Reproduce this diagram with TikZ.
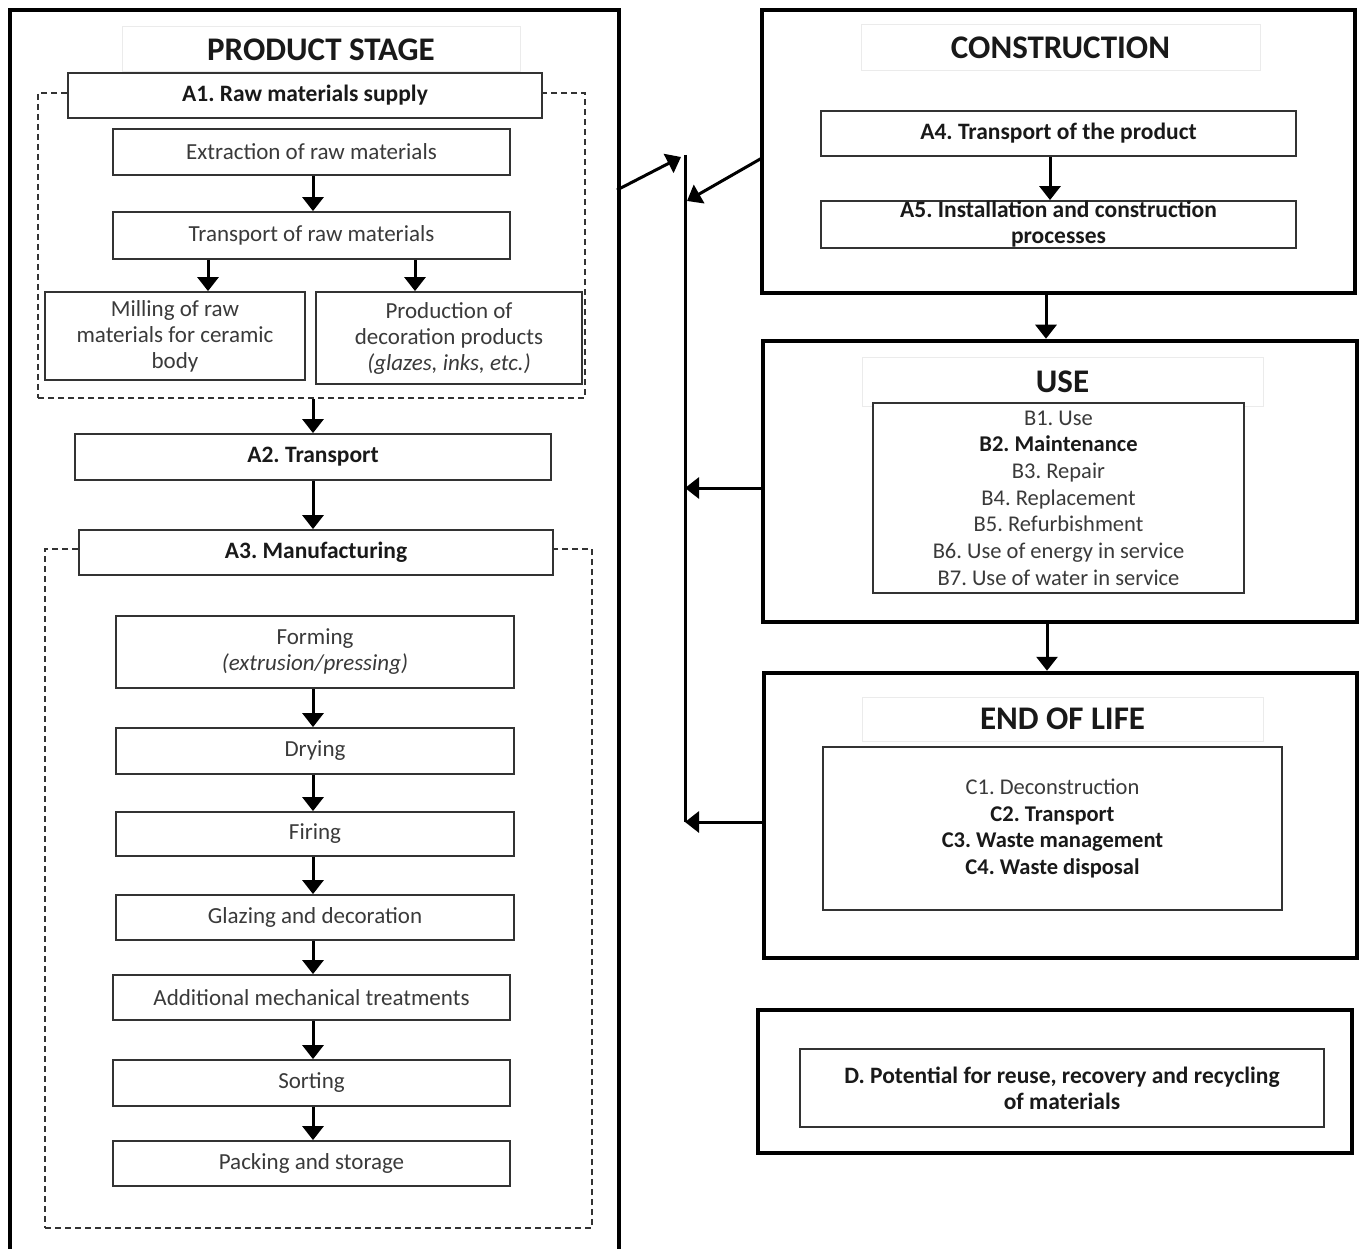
\documentclass[tikz,border=0pt]{standalone}
\usepackage{fontspec}
\setmainfont{Carlito}
\usetikzlibrary{arrows.meta}
\definecolor{txt}{HTML}{3A3A3A}
\definecolor{bx}{HTML}{333333}
\frenchspacing
\tikzset{
 outerbox/.style={draw=black, line width=4.5pt},
 box/.style={draw=bx, line width=1.8pt, fill=white, align=center, inner sep=0pt, text=txt, font=\fontsize{23}{26}\selectfont\frenchspacing},
 bbox/.style={box, text=black!90, font=\fontsize{23.5}{26}\selectfont\bfseries\frenchspacing},
 titlebox/.style={draw=black!8, line width=1pt, fill=white, inner sep=0pt, text=black!90, font=\fontsize{33}{36}\selectfont\bfseries},
 dashbox/.style={draw=black!80, line width=1.6pt, dash pattern=on 6pt off 4pt, inner sep=0pt},
 arr/.style={line width=3pt, -{Triangle[width=21pt,length=14pt]}},
 fb/.style={line width=3pt},
}
\begin{document}
\begin{tikzpicture}[x=1pt,y=-1pt]
\useasboundingbox (0,0) rectangle (1360,1249);
\fill[white] (0,0) rectangle (1360,1249);
% ---------- product stage ----------
\draw[outerbox] (10,1262) -- (10,10) -- (619,10) -- (619,1262);
\node[dashbox, minimum width=547pt, minimum height=305pt] (g1) at (311.5,245.5) {};
\node[dashbox, minimum width=547pt, minimum height=679pt] (g3) at (318.5,888.5) {};
\node[titlebox, minimum width=398pt, minimum height=45pt] (tp) at (321,49.5) {PRODUCT STAGE};
\node[bbox, minimum width=474pt, minimum height=45pt] (a1) at (305,95.5) {A1. Raw materials supply};
\node[box, minimum width=397pt, minimum height=46pt] (ext) at (311.5,152) {Extraction of raw materials};
\node[box, minimum width=397pt, minimum height=47pt] (trp) at (311.5,235.5) {Transport of raw materials};
\node[box, minimum width=260pt, minimum height=88pt] (mill) at (175,336) {Milling of raw\\materials for ceramic\\body};
\node[box, minimum width=266pt, minimum height=92pt] (deco) at (449,338) {Production of\\decoration products\\{\itshape(glazes, inks, etc.)}};
\node[bbox, minimum width=476pt, minimum height=46pt] (a2) at (313,457) {A2. Transport};
\node[bbox, minimum width=474pt, minimum height=45pt] (a3) at (316,552.5) {A3. Manufacturing};
\node[box, minimum width=398pt, minimum height=72pt] (form) at (315,652) {Forming\\{\itshape(extrusion/pressing)}};
\node[box, minimum width=398pt, minimum height=46pt] (dry) at (315,751) {Drying};
\node[box, minimum width=398pt, minimum height=44pt] (fire) at (315,834) {Firing};
\node[box, minimum width=398pt, minimum height=45pt] (glaze) at (315,917.5) {Glazing and decoration};
\node[box, minimum width=397pt, minimum height=45pt] (mech) at (311.5,997.5) {Additional mechanical treatments};
\node[box, minimum width=397pt, minimum height=46pt] (sort) at (311.5,1083) {Sorting};
\node[box, minimum width=397pt, minimum height=45pt] (pack) at (311.5,1163.5) {Packing and storage};
\coordinate (xl) at (313,0);
\coordinate (xm) at (208,0);
\coordinate (xd) at (415,0);
\draw[arr] (ext.south -| xl) -- (trp.north -| xl);
\draw[arr] (trp.south -| xm) -- (mill.north -| xm);
\draw[arr] (trp.south -| xd) -- (deco.north -| xd);
\draw[arr] (g1.south -| xl) -- (a2.north -| xl);
\draw[arr] (a2.south -| xl) -- (a3.north -| xl);
\draw[arr] (form.south -| xl) -- (dry.north -| xl);
\draw[arr] (dry.south -| xl) -- (fire.north -| xl);
\draw[arr] (fire.south -| xl) -- (glaze.north -| xl);
\draw[arr] (glaze.south -| xl) -- (mech.north -| xl);
\draw[arr] (mech.south -| xl) -- (sort.north -| xl);
\draw[arr] (sort.south -| xl) -- (pack.north -| xl);
% ---------- construction ----------
\node[outerbox, minimum width=593pt, minimum height=283pt, inner sep=0pt] (con) at (1058.5,151.5) {};
\node[titlebox, minimum width=399pt, minimum height=46pt] (tc) at (1060.5,48) {CONSTRUCTION};
\node[bbox, minimum width=475pt, minimum height=45pt] (a4) at (1058.5,133.5) {A4. Transport of the product};
\node[bbox, minimum width=475pt, minimum height=47pt] (a5) at (1058.5,224.5) {A5. Installation and construction\\processes};
\coordinate (x4) at (1050,0);
\draw[arr] (a4.south -| x4) -- (a5.north -| x4);
% ---------- use ----------
\node[outerbox, minimum width=594pt, minimum height=281pt, inner sep=0pt] (use) at (1060,481.5) {};
\node[titlebox, minimum width=401pt, minimum height=49pt] (tu) at (1062.5,381.5) {USE};
\node[box, minimum width=371pt, minimum height=190pt, font=\fontsize{22.5}{26.7}\selectfont\frenchspacing] (blist) at (1058.5,498)
 {B1. Use\\\textbf{\color{black!90}B2. Maintenance}\\B3. Repair\\B4. Replacement\\B5. Refurbishment\\B6. Use of energy in service\\B7. Use of water in service};
\coordinate (x5) at (1046,0);
\draw[arr] (con.south -| x5) -- (use.north -| x5);
% ---------- end of life ----------
\node[outerbox, minimum width=593pt, minimum height=285pt, inner sep=0pt] (eol) at (1060.5,815.5) {};
\node[titlebox, minimum width=401pt, minimum height=44pt] (te) at (1062.5,719) {END OF LIFE};
\node[box, minimum width=459pt, minimum height=163pt, font=\fontsize{22.5}{26.7}\selectfont\frenchspacing] (clist) at (1052.5,828.5)
 {C1. Deconstruction\\\textbf{\color{black!90}C2. Transport}\\\textbf{\color{black!90}C3. Waste management}\\\textbf{\color{black!90}C4. Waste disposal}};
\coordinate (x6) at (1047,0);
\draw[arr] (use.south -| x6) -- (eol.north -| x6);
% ---------- D ----------
\node[outerbox, minimum width=594pt, minimum height=143pt, inner sep=0pt] (dout) at (1055,1081.5) {};
\node[bbox, minimum width=524pt, minimum height=78pt] (din) at (1062,1088) {D. Potential for reuse, recovery and recycling\\of materials};
% ---------- feedback line ----------
\coordinate (vt) at (685,155);
\coordinate (vb) at (685,822);
\draw[fb] (vt) -- (vb);
\coordinate (p1) at (617,190);
\coordinate (t1) at (681,157);
\draw[arr] (p1) -- (t1);
\coordinate (c1) at (762,158);
\coordinate (t2) at (687,201);
\draw[arr] (c1) -- (t2);
\coordinate (u1) at (762,488);
\coordinate (u2) at (685,488);
\draw[arr] (u1) -- (u2);
\coordinate (e1) at (762,822);
\draw[arr] (e1) -- (vb);
\end{tikzpicture}
\end{document}
